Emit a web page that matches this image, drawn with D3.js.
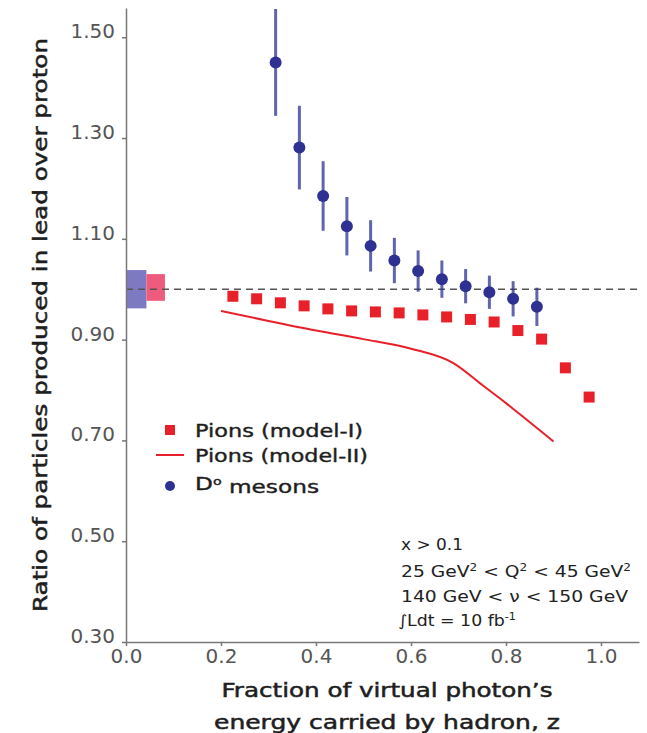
<!DOCTYPE html>
<html lang="en">
<head>
  <meta charset="UTF-8">
  <title>Lead over proton ratio</title>
  <script src="https://d3js.org/d3.v7.min.js"></script>
  <style>
    body { margin: 0; background: #fff; }
    svg { display: block; background: #fff; font-family: "DejaVu Sans", sans-serif; }
    .axis path, .axis line { stroke: #777; stroke-width: 1.5; }
    .axis text { font-size: 20px; fill: #555; font-family: "DejaVu Sans", sans-serif; }
    .title { font-size: 19px; fill: #1e1e1e; stroke: #1e1e1e; stroke-width: 0.5; }
    .legend text { font-size: 18px; fill: #1e1e1e; stroke: #1e1e1e; stroke-width: 0.4; }
    .note { font-size: 15.5px; fill: #222; }
  </style>
</head>
<body>
  <svg width="647" height="733"></svg>
  <script>
    const width = 647;
    const height = 733;

    // D0 mesons
    const dZ = [0.315, 0.365, 0.415, 0.465, 0.515, 0.565, 0.615, 0.665, 0.715, 0.765, 0.815, 0.865];
    const dRatio = [1.450, 1.281, 1.185, 1.125, 1.086, 1.057, 1.036, 1.020, 1.006, 0.994, 0.981, 0.965];
    const dErr = [0.106, 0.083, 0.069, 0.058, 0.051, 0.045, 0.041, 0.037, 0.034, 0.033, 0.035, 0.038];

    // Pions (model-I)
    const pionZ = [0.225, 0.275, 0.325, 0.375, 0.425, 0.475, 0.525, 0.575, 0.625, 0.675, 0.725, 0.775, 0.825, 0.875, 0.925, 0.975];
    const pionRatio = [0.986, 0.981, 0.973, 0.967, 0.961, 0.957, 0.955, 0.953, 0.949, 0.945, 0.940, 0.935, 0.918, 0.901, 0.844, 0.786];

    // Pions (model-II)
    const modelZ = [0.2, 0.3, 0.4, 0.5, 0.6, 0.69, 0.75, 0.8, 0.85, 0.9];
    const modelRatio = [0.957, 0.937, 0.918, 0.901, 0.882, 0.853, 0.810, 0.774, 0.736, 0.698];

    // normalisation boxes at z ~ 0
    const boxZ0 = [0, 0.043];
    const boxZ1 = [0.043, 0.082];
    const boxLow = [0.962, 0.977];
    const boxHigh = [1.038, 1.030];
    const boxColors = ["#7d7ac2", "#ee5b7c"];

    const xTicks = [0, 0.2, 0.4, 0.6, 0.8, 1.0];
    const yTicks = [0.30, 0.50, 0.70, 0.90, 1.10, 1.30, 1.50];

    const red = "#e8202a";
    const blue = "#2e3192";

    const svg = d3.select("svg");

    const x = d3.scaleLinear().domain([0, 1.08]).range([126, 639]);
    const y = d3.scaleLinear().domain([0.30, 1.558]).range([642, 8]);

    svg.append("defs").append("clipPath").attr("id", "plot")
      .append("rect")
      .attr("x", x(0)).attr("y", y(1.558))
      .attr("width", x(1.08) - x(0)).attr("height", y(0.30) - y(1.558));

    // Boxes
    svg.append("g").selectAll("rect")
      .data(boxZ0)
      .join("rect")
      .attr("x", (d, i) => x(d))
      .attr("width", (d, i) => x(boxZ1[i]) - x(d))
      .attr("y", (d, i) => y(boxHigh[i]))
      .attr("height", (d, i) => y(boxLow[i]) - y(boxHigh[i]))
      .attr("fill", (d, i) => boxColors[i]);

    // Reference line at 1
    svg.append("line")
      .attr("x1", x(0)).attr("x2", x(1.08))
      .attr("y1", y(1)).attr("y2", y(1))
      .attr("stroke", "#555")
      .attr("stroke-width", 1.5)
      .attr("stroke-dasharray", "7,5");

    // Axes
    const yAxis = svg.append("g")
      .attr("class", "axis")
      .attr("transform", `translate(${x(0)},0)`)
      .call(d3.axisLeft(y).tickValues(yTicks).tickFormat(d3.format(".2f")).tickSize(4).tickSizeOuter(0).tickPadding(7));
    // labels sit just above their ticks, as in the original
    yAxis.selectAll(".tick text").attr("dy", "0.02em");

    svg.append("g")
      .attr("class", "axis")
      .attr("transform", `translate(0,${y(0.30)})`)
      .call(d3.axisBottom(x).tickValues(xTicks).tickFormat(d3.format(".1f")).tickSize(4).tickSizeOuter(0).tickPadding(3));

    // Model-II line
    const line = d3.line()
      .x((d, i) => x(modelZ[i]))
      .y(d => y(d))
      .curve(d3.curveMonotoneX);

    svg.append("path")
      .datum(modelRatio)
      .attr("fill", "none")
      .attr("stroke", red)
      .attr("stroke-width", 2)
      .attr("d", line);

    // Model-I squares
    const sq = 11;
    svg.append("g").selectAll("rect")
      .data(pionRatio)
      .join("rect")
      .attr("x", (d, i) => x(pionZ[i]) - sq / 2)
      .attr("y", d => y(d) - sq / 2)
      .attr("width", sq)
      .attr("height", sq)
      .attr("fill", red);

    // D0 mesons with error bars
    const dg = svg.append("g").attr("clip-path", "url(#plot)");
    dg.selectAll("line")
      .data(dRatio)
      .join("line")
      .attr("x1", (d, i) => x(dZ[i]))
      .attr("x2", (d, i) => x(dZ[i]))
      .attr("y1", (d, i) => y(d + dErr[i]))
      .attr("y2", (d, i) => y(d - dErr[i]))
      .attr("stroke", blue)
      .attr("stroke-opacity", 0.75)
      .attr("stroke-width", 3);

    dg.selectAll("circle")
      .data(dRatio)
      .join("circle")
      .attr("cx", (d, i) => x(dZ[i]))
      .attr("cy", d => y(d))
      .attr("r", 6)
      .attr("fill", blue);

    // Axis titles
    svg.append("text")
      .attr("class", "title")
      .attr("transform", `translate(47,${325}) rotate(-90)`)
      .attr("text-anchor", "middle")
      .attr("textLength", 574)
      .attr("lengthAdjust", "spacingAndGlyphs")
      .text("Ratio of particles produced in lead over proton");

    svg.append("text")
      .attr("class", "title")
      .attr("x", 387).attr("y", 697)
      .attr("text-anchor", "middle")
      .attr("textLength", 331)
      .attr("lengthAdjust", "spacingAndGlyphs")
      .text("Fraction of virtual photon\u2019s");

    svg.append("text")
      .attr("class", "title")
      .attr("x", 387).attr("y", 729)
      .attr("text-anchor", "middle")
      .attr("textLength", 346)
      .attr("lengthAdjust", "spacingAndGlyphs")
      .text("energy carried by hadron, z");

    // Legend
    const legend = svg.append("g").attr("class", "legend");
    legend.append("rect")
      .attr("x", 165).attr("y", 425).attr("width", 10).attr("height", 10)
      .attr("fill", red);
    legend.append("line")
      .attr("x1", 156).attr("x2", 184).attr("y1", 455).attr("y2", 455)
      .attr("stroke", red).attr("stroke-width", 2);
    legend.append("circle")
      .attr("cx", 170).attr("cy", 486).attr("r", 5)
      .attr("fill", blue);

    legend.append("text").attr("x", 195).attr("y", 431).attr("dy", "0.35em")
      .attr("textLength", 168).attr("lengthAdjust", "spacingAndGlyphs")
      .text("Pions (model-I)");
    legend.append("text").attr("x", 195).attr("y", 456).attr("dy", "0.35em")
      .attr("textLength", 173).attr("lengthAdjust", "spacingAndGlyphs")
      .text("Pions (model-II)");
    const dText = legend.append("text").attr("x", 195).attr("y", 484).attr("dy", "0.35em")
      .attr("textLength", 124).attr("lengthAdjust", "spacingAndGlyphs");
    dText.append("tspan").text("D");
    dText.append("tspan").attr("dy", "-0.45em").style("font-size", "11px").text("o");
    dText.append("tspan").attr("dy", "0.45em").text(" mesons");

    // Cut annotations
    const notes = svg.append("g").attr("class", "note");
    notes.append("text").attr("x", 401).attr("y", 550)
      .attr("textLength", 62).attr("lengthAdjust", "spacingAndGlyphs")
      .text("x > 0.1");

    const n2 = notes.append("text").attr("x", 401).attr("y", 577)
      .attr("textLength", 230).attr("lengthAdjust", "spacingAndGlyphs");
    n2.append("tspan").text("25 GeV");
    n2.append("tspan").attr("dy", -6).style("font-size", "10px").text("2");
    n2.append("tspan").attr("dy", 6).text(" < Q");
    n2.append("tspan").attr("dy", -6).style("font-size", "10px").text("2");
    n2.append("tspan").attr("dy", 6).text(" < 45 GeV");
    n2.append("tspan").attr("dy", -6).style("font-size", "10px").text("2");

    notes.append("text").attr("x", 401).attr("y", 602)
      .attr("textLength", 227).attr("lengthAdjust", "spacingAndGlyphs")
      .text("140 GeV < \u03bd < 150 GeV");

    const n4 = notes.append("text").attr("x", 398).attr("y", 626)
      .attr("textLength", 118).attr("lengthAdjust", "spacingAndGlyphs");
    n4.append("tspan").text("\u222bLdt = 10 fb");
    n4.append("tspan").attr("dy", -6).style("font-size", "10px").text("-1");
  </script>
</body>
</html>
